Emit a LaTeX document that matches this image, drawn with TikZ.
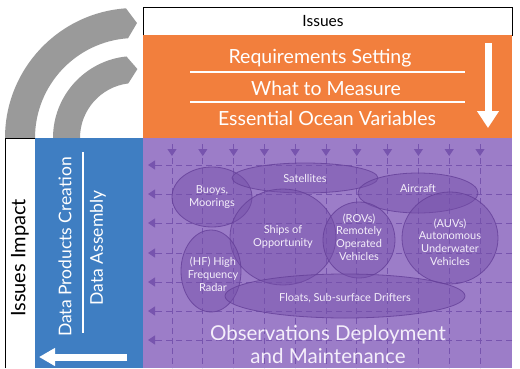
\documentclass[tikz,border=0pt]{standalone}
\usepackage{fontspec}
\setmainfont{Lato}
\usetikzlibrary{arrows.meta}
\definecolor{orng}{HTML}{F27F3D}
\definecolor{blu}{HTML}{3F7EC2}
\definecolor{purp}{HTML}{9C7DC8}
\definecolor{ellfill}{HTML}{7650AA}
\definecolor{elldraw}{HTML}{643F98}
\definecolor{gridc}{HTML}{7754AE}
\definecolor{arcgray}{HTML}{9A9A9A}
\definecolor{softw}{HTML}{F4EEFA}
\tikzset{
  ell/.style={draw=elldraw, line width=0.8pt, fill=ellfill, fill opacity=0.45, draw opacity=0.8},
  elltext/.style={text=softw, font=\fontsize{11}{12.8}\selectfont, align=center, inner sep=0pt},
  gridline/.style={gridc, line width=1pt, dash pattern=on 6pt off 4pt},
  gridtip/.style={-{Triangle[width=9pt,length=7pt]}, gridc, line width=1pt},
  orangetext/.style={text=white, font=\fontsize{19.5}{22}\selectfont, inner sep=0pt},
  bluetext/.style={rotate=90, text=white, font=\fontsize{17.5}{20}\selectfont, inner sep=0pt},
  bigarrow/.style={white, line width=7pt},
}
\begin{document}
\begin{tikzpicture}[x=1pt,y=1pt]
\useasboundingbox (0,0) rectangle (520,368);
\fill[white] (0,0) rectangle (520,368);
% gray arcs
\fill[arcgray] (5,230) arc[start angle=180,end angle=94,radius=130]
  -- ([shift={(135,230)}]89:115) -- ([shift={(135,230)}]94:100)
  arc[start angle=94,end angle=180,radius=100] -- cycle;
\fill[arcgray] (53,230) arc[start angle=180,end angle=96,radius=82]
  -- ([shift={(135,230)}]88:69) -- ([shift={(135,230)}]97:55)
  arc[start angle=97,end angle=180,radius=55] -- cycle;
% top boxes
\node[draw=black, fill=white, line width=0.8pt, minimum width=369pt, minimum height=28pt, anchor=north west, inner sep=0pt] (issues) at (143,361) {};
\node[font=\fontsize{15.5}{17}\selectfont, inner sep=0pt] (issuestxt) at (323,347) {Issues};
\fill[orng] (143,333) rectangle (512,230);
\node[orangetext] (req) at (320,310) {Requirements Setting};
\node[orangetext] (what) at (326,280) {What to Measure};
\node[orangetext] (eov) at (327,250) {Essential Ocean Variables};
\coordinate (l1a) at (190,296); \coordinate (l1b) at (465,296);
\coordinate (l2a) at (190,266); \coordinate (l2b) at (465,266);
\draw[white, line width=1.5pt] (l1a) -- (l1b);
\draw[white, line width=1.5pt] (l2a) -- (l2b);
\coordinate (da) at (488,325); \coordinate (db) at (488,240);
\draw[bigarrow, -{Triangle[width=21pt,length=17pt]}] (da) -- (db);
% bottom left boxes
\fill[white] (5,230) rectangle (35,0);
\draw[black, line width=0.8pt] (5,0) -- (5,230) -- (35,230) -- (35,0);
\node[rotate=90, font=\fontsize{20}{22}\selectfont, inner sep=0pt] (impacttxt) at (20,110) {Issues Impact};
\fill[blu] (35,230) rectangle (143,0);
\node[bluetext] (dpc) at (65,121) {Data Products Creation};
\node[bluetext] (da2) at (98,120) {Data Assembly};
\coordinate (sa) at (83,216); \coordinate (sb) at (83,35);
\draw[white, line width=1.3pt] (sa) -- (sb);
\coordinate (la) at (127,11); \coordinate (lb) at (39,11);
\draw[bigarrow, -{Triangle[width=17pt,length=16pt]}] (la) -- (lb);
% purple field
\fill[purp] (143,230) rectangle (512,0);
\foreach \i in {0,...,10} {
  \pgfmathsetmacro{\xx}{172+30.8*\i}
  \draw[gridline] (\xx,210) -- (\xx,0);
  \draw[gridtip] (\xx,224) -- (\xx,212);
}
\foreach \yy in {203,174,145,115,86,57,28} {
  \draw[gridline] (512,\yy) -- (158,\yy);
  \draw[gridtip] (160,\yy) -- (148,\yy);
}
% ellipses
\draw[ell] (212,171) ellipse[x radius=40, y radius=30];
\draw[ell] (305,190) ellipse[x radius=73, y radius=15];
\draw[ell] (418,175) ellipse[x radius=60, y radius=20];
\draw[ell] (283,131) ellipse[x radius=53, y radius=48];
\draw[ell] (359,128) ellipse[x radius=36, y radius=38];
\draw[ell] (450,130) ellipse[x radius=48, y radius=46];
\draw[ell] (211,97) ellipse[x radius=30, y radius=41];
\draw[ell] (345,72) ellipse[x radius=120, y radius=22];
\node[elltext] (buoys) at (212,171) {Buoys,\\Moorings};
\node[elltext] (sat) at (305,190) {Satellites};
\node[elltext] (air) at (418,179) {Aircraft};
\node[elltext] (ships) at (283,131) {Ships of\\Opportunity};
\node[elltext] (rov) at (359,131) {(ROVs)\\Remotely\\Operated\\Vehicles};
\node[elltext] (auv) at (450,126) {(AUVs)\\Autonomous\\Underwater\\Vehicles};
\node[elltext] (hf) at (213,94) {(HF) High\\Frequency\\Radar};
\node[elltext] (floats) at (345,70) {Floats, Sub-surface Drifters};
\node[text=softw, font=\fontsize{20.5}{23}\selectfont, align=center, inner sep=0pt] (obs) at (328,23) {Observations Deployment\\and Maintenance};
\end{tikzpicture}
\end{document}
